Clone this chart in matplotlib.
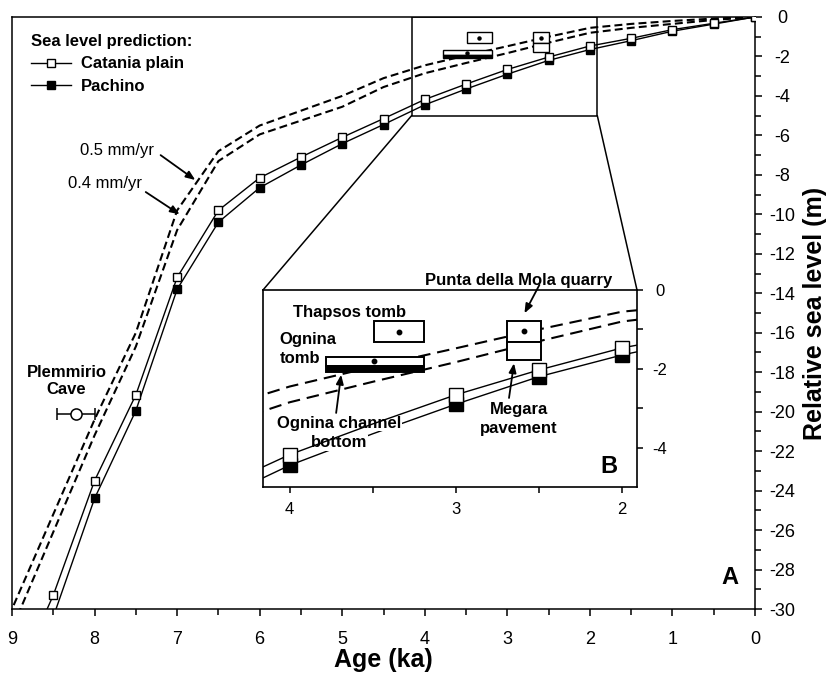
import matplotlib
matplotlib.use('Agg')
import matplotlib.pyplot as plt
from matplotlib.lines import Line2D
from matplotlib.patches import Rectangle, ConnectionPatch
import numpy as np

plt.rcParams['font.family'] = ['Liberation Sans', 'DejaVu Sans']

# ---------------- data ----------------
ages = [0, 0.5, 1, 1.5, 2, 2.5, 3, 3.5, 4, 4.5, 5, 5.5, 6, 6.5, 7, 7.5, 8, 8.5, 9]
catania = [0, -0.32, -0.64, -1.08, -1.47, -2.03, -2.66, -3.40, -4.18, -5.15, -6.10,
           -7.10, -8.15, -9.80, -13.2, -19.15, -23.5, -29.3, -34.0]
pachino = [0, -0.36, -0.72, -1.20, -1.65, -2.20, -2.90, -3.65, -4.45, -5.45, -6.42,
           -7.50, -8.65, -10.4, -13.8, -19.95, -24.4, -30.4, -35.5]
uplift_05 = [0, -0.08, -0.20, -0.35, -0.55, -1.00, -1.48, -1.95, -2.45, -3.10, -4.00,
             -4.75, -5.50, -6.80, -9.80, -16.0, -20.4, -25.2, -30.0]
uplift_04 = [0, -0.15, -0.35, -0.55, -0.80, -1.30, -1.83, -2.33, -2.85, -3.55, -4.55,
             -5.25, -5.95, -7.30, -10.8, -16.7, -21.2, -26.1, -31.0]
inset_marker_ages = [4.0, 3.0, 2.5, 2.0]

arch_names = ['Thapsos tomb', 'Ognina tomb', 'Ognina channel bottom',
              'Punta della Mola quarry', 'Megara pavement']
arch_age_old = [3.49, 3.78, 3.78, 2.69, 2.69]
arch_age_young = [3.19, 3.19, 3.19, 2.49, 2.49]
arch_top = [-0.78, -1.69, -1.92, -0.78, -1.33]
arch_bottom = [-1.33, -1.92, -2.09, -1.33, -1.77]
arch_filled = [False, False, True, False, False]
dot_ages = [3.34, 3.49, 2.59]
dot_levels = [-1.07, -1.80, -1.04]

cave_age = [8.22]
cave_level = [-20.1]
cave_age_err = [0.23]

x_ticks = [9, 8, 7, 6, 5, 4, 3, 2, 1, 0]
x_tick_labels = ['9', '8', '7', '6', '5', '4', '3', '2', '1', '0']
y_ticks = [0, -2, -4, -6, -8, -10, -12, -14, -16, -18, -20, -22, -24, -26, -28, -30]
y_tick_labels = ['0', '-2', '-4', '-6', '-8', '-10', '-12', '-14', '-16', '-18',
                 '-20', '-22', '-24', '-26', '-28', '-30']
inset_x_ticks = [4, 3, 2]
inset_x_tick_labels = ['4', '3', '2']
inset_y_ticks = [0, -2, -4]
inset_y_tick_labels = ['0', '-2', '-4']
inset_xlim = (4.16, 1.91)
inset_ylim = (-5, 0)

# ---------------- figure ----------------
W, H = 831, 687
fig = plt.figure(figsize=(W / 100, H / 100), dpi=100)
ax = fig.add_axes([12 / W, 1 - 609 / H, 743 / W, 592 / H])
axi = fig.add_axes([263 / W, 1 - 487 / H, 374 / W, 197 / H])


def draw_content(a, ms, dash, box_lw, mark_ages=None):
    a.plot(ages, uplift_05, color='k', lw=1.5, ls=(0, dash), zorder=2)
    a.plot(ages, uplift_04, color='k', lw=1.5, ls=(0, dash), zorder=2)
    if mark_ages is None:
        mk = None
    else:
        mk = [x in mark_ages for x in ages]
    a.plot(ages, pachino, color='k', lw=1.0, marker='s', ms=ms, mfc='k', mec='k',
           mew=1.0, markevery=mk, zorder=4)
    a.plot(ages, catania, color='k', lw=1.0, marker='s', ms=ms, mfc='white', mec='k',
           mew=1.0, markevery=mk, zorder=5)
    for yo, yy, t, b, f in zip(arch_age_old, arch_age_young, arch_top, arch_bottom,
                               arch_filled):
        a.add_patch(Rectangle((yy, b), yo - yy, t - b, facecolor='k' if f else 'white',
                              edgecolor='k', lw=box_lw, zorder=3))
    a.plot(dot_ages, dot_levels, ls='none', marker='o', color='k',
           ms=2.2 if mark_ages is None else 3.2, zorder=6)


# ---------------- main panel ----------------
draw_content(ax, 5.5, (3.8, 2.0), 1.0)
ax.errorbar(cave_age, cave_level, xerr=cave_age_err, fmt='o', mfc='white', mec='k',
            ms=8, mew=1.1, ecolor='k', elinewidth=1.1, capsize=4.5, capthick=1.1,
            zorder=6)

ax.set_xlim(9, 0)
ax.set_ylim(-30, 0)
ax.set_xticks(x_ticks)
ax.set_xticklabels(x_tick_labels)
ax.set_xticks(np.arange(0.5, 9, 1.0), minor=True)
ax.yaxis.tick_right()
ax.set_yticks(y_ticks)
ax.set_yticklabels(y_tick_labels, ha='center')
ax.set_yticks(np.arange(-29, 0, 2), minor=True)
ax.tick_params(which='major', direction='out', length=5, width=1.1, labelsize=13)
ax.tick_params(which='minor', direction='out', length=4, width=1.1)
ax.tick_params(axis='y', which='major', pad=14.4)
ax.tick_params(axis='x', which='major', pad=11)
for s in ax.spines.values():
    s.set_linewidth(1.1)

ax.set_xlabel('Age (ka)', fontsize=18, fontweight='bold')
ax.xaxis.set_label_coords(0.5, -(660 - 609) / 592)
ax.xaxis.label.set_va('center')
ax.yaxis.set_label_position('right')
ax.set_ylabel('Relative sea level (m)', fontsize=18, fontweight='bold')
ax.yaxis.set_label_coords((815 - 12) / 743, 0.5)
ax.yaxis.label.set_va('center')
ax.yaxis.label.set_ha('center')

h1 = Line2D([], [], color='k', lw=1.0, marker='s', ms=6, mfc='white', mec='k')
h2 = Line2D([], [], color='k', lw=1.0, marker='s', ms=6, mfc='k', mec='k')
ax.legend([h1, h2], ['Catania plain', 'Pachino'], title='Sea level prediction:',
          loc='upper left', bbox_to_anchor=((31 - 12) / 743, 1 - (34 - 17) / 592),
          frameon=False, prop={'weight': 'bold', 'size': 12},
          title_fontproperties={'weight': 'bold', 'size': 12}, alignment='left',
          handlelength=2.4, handletextpad=0.6, borderpad=0, borderaxespad=0,
          labelspacing=0.45)

arrow = dict(arrowstyle='-|>,head_length=0.55,head_width=0.22', color='k', lw=1.3,
             shrinkA=0, shrinkB=0)
ax.text(7.28, -6.74, '0.5 mm/yr', ha='right', va='center', fontsize=12)
ax.annotate('', xy=(6.78, -8.26), xytext=(7.20, -7.0), arrowprops=arrow)
ax.text(7.42, -8.46, '0.4 mm/yr', ha='right', va='center', fontsize=12)
ax.annotate('', xy=(6.97, -10.0), xytext=(7.38, -8.87), arrowprops=arrow)
ax.text(8.34, -18.45, 'Plemmirio\nCave', ha='center', va='center', fontsize=12,
        fontweight='bold', linespacing=1.1)
ax.text(0.30, -28.4, 'A', ha='center', va='center', fontsize=17, fontweight='bold')

# zoom rectangle + connectors
ax.add_patch(Rectangle((inset_xlim[1], inset_ylim[0]), inset_xlim[0] - inset_xlim[1],
                       inset_ylim[1] - inset_ylim[0], fill=False, ec='k', lw=1.1,
                       zorder=7))
for xa, xb in [(inset_xlim[0], 0), (inset_xlim[1], 1)]:
    cp = ConnectionPatch(xyA=(xa, inset_ylim[0]), coordsA=ax.transData,
                         xyB=(xb, 1), coordsB=axi.transAxes, color='k', lw=1.1)
    fig.add_artist(cp)

# ---------------- inset ----------------
draw_content(axi, 9.5, (6.0, 3.3), 1.4, mark_ages=inset_marker_ages)
axi.set_xlim(*inset_xlim)
axi.set_ylim(*inset_ylim)
axi.set_xticks(inset_x_ticks)
axi.set_xticklabels(inset_x_tick_labels)
axi.set_xticks([3.5, 2.5], minor=True)
axi.yaxis.tick_right()
axi.set_yticks(inset_y_ticks)
axi.set_yticklabels(inset_y_tick_labels, ha='center')
axi.set_yticks([-1, -3], minor=True)
axi.tick_params(which='both', direction='out', length=4.3, width=1.1, labelsize=12)
axi.tick_params(axis='y', which='major', pad=12.2)
axi.tick_params(axis='x', which='major', pad=6.5)
for s in axi.spines.values():
    s.set_linewidth(1.2)

bold = dict(fontsize=12, fontweight='bold')
axi.text(3.64, -0.56, 'Thapsos tomb', ha='center', va='center', **bold)
axi.text(4.06, -1.5, 'Ognina\ntomb', ha='left', va='center', linespacing=1.3, **bold)
axi.text(3.70, -3.39, 'Ognina channel', ha='center', va='center',
         bbox=dict(fc='white', ec='none', pad=0.3), zorder=4.5, **bold)
axi.text(3.70, -3.88, 'bottom', ha='center', va='center',
         bbox=dict(fc='white', ec='none', pad=0.3), zorder=4.5, **bold)
axi.text(2.62, 0.25, 'Punta della Mola quarry', ha='center', va='center',
         clip_on=False, **bold)
axi.text(2.62, -3.27, 'Megara\npavement', ha='center', va='center', linespacing=1.3,
         **bold)
axi.text(2.076, -4.47, 'B', ha='center', va='center', fontsize=17, fontweight='bold')

axi.annotate('', xy=(2.587, -0.59), xytext=(2.497, 0.13), arrowprops=arrow,
             annotation_clip=False)
axi.annotate('', xy=(2.65, -1.86), xytext=(2.68, -2.74), arrowprops=arrow)
axi.annotate('', xy=(3.69, -2.15), xytext=(3.72, -3.12), arrowprops=arrow)

fig.savefig('out.png', dpi=100)
